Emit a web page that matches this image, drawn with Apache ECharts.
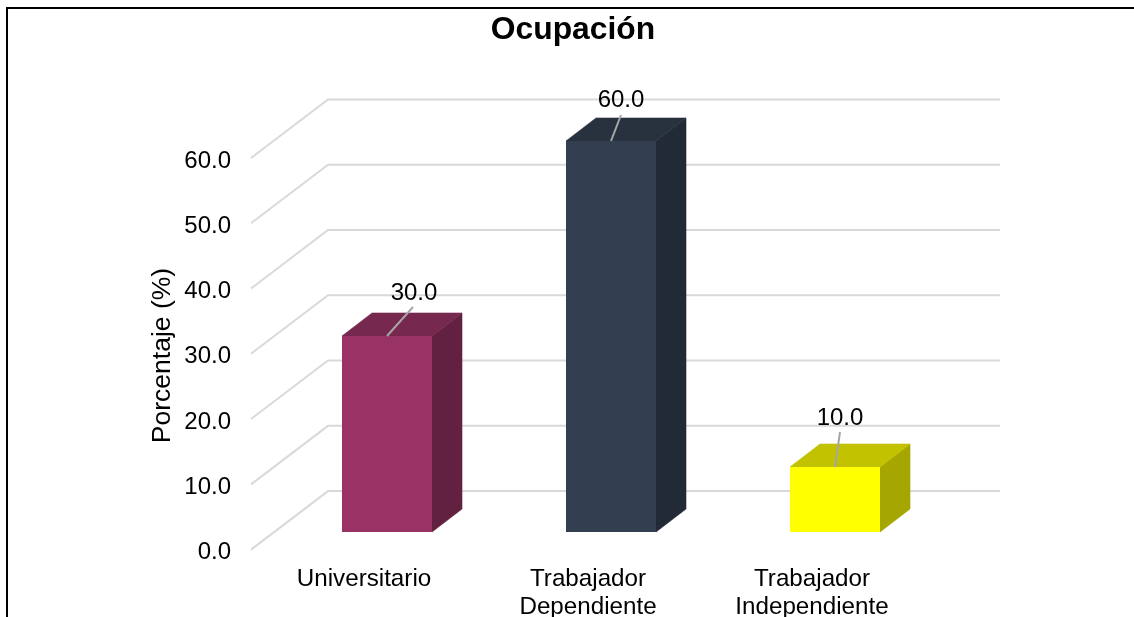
<!DOCTYPE html>
<html>
<head>
<meta charset="utf-8">
<title>Ocupación</title>
<script src="https://cdn.jsdelivr.net/npm/echarts@6/dist/echarts.min.js"></script>
<style>
  html, body { margin: 0; background: #fff; }
  #chart { width: 1134px; height: 617px; }
</style>
</head>
<body>
<div id="chart"></div>
<script>
const categories = ["Universitario", "Trabajador\nDependiente", "Trabajador\nIndependiente"];
const values = [30, 60, 10];
const gridTicks = [0, 10, 20, 30, 40, 50, 60];

// front, top, side of each box
const barColors = [
  ["#993366", "#76284f", "#632141"],
  ["#333f50", "#28323f", "#222a35"],
  ["#ffff00", "#c2c200", "#a6a600"]
];
// leader line end and label centre, relative to the middle of the bar's front top edge
const leaders = [
  { dx: 26, dy: -29, tx: 27, ty: -43 },
  { dx: 10, dy: -26, tx: 10, ty: -41 },
  { dx: 5, dy: -35, tx: 5, ty: -49 }
];

const FONT = '"Liberation Sans", Arial, sans-serif';
const wallDx = 77, wallDy = -58.5;
const barShift = 23, barHalf = 45, barLift = 17.4, depthX = 30, depthY = -23;

function renderWall(params, api) {
  const y = api.coord([0, api.value(0)])[1];
  const x0 = params.coordSys.x - 1;
  return {
    type: "polyline",
    silent: true,
    shape: { points: [[x0, y], [x0 + wallDx, y + wallDy], [1000, y + wallDy]] },
    style: { fill: "none", stroke: "#d9d9d9", lineWidth: 2 }
  };
}

function renderBar(params, api) {
  const i = api.value(0);
  const v = api.value(1);
  const top = api.coord([i, v]);
  const base = api.coord([i, 0]);
  const cx = Math.round(top[0] + barShift);
  const l = cx - barHalf, r = cx + barHalf;
  const t = Math.round(top[1] - barLift), b = Math.round(base[1] - barLift);
  const c = barColors[i];
  const lead = leaders[i];
  return {
    type: "group",
    children: [
      {
        type: "polygon",
        shape: { points: [[r, t], [r + depthX, t + depthY], [r + depthX, b + depthY], [r, b]] },
        style: { fill: c[2], stroke: c[2], lineWidth: 0.6 }
      },
      {
        type: "polygon",
        shape: { points: [[l, t], [l + depthX, t + depthY], [r + depthX, t + depthY], [r, t]] },
        style: { fill: c[1], stroke: c[1], lineWidth: 0.6 }
      },
      { type: "rect", shape: { x: l, y: t, width: r - l, height: b - t }, style: { fill: c[0] } },
      {
        type: "line",
        shape: { x1: cx, y1: t, x2: cx + lead.dx, y2: t + lead.dy },
        style: { stroke: "#a6a6a6", lineWidth: 2 }
      },
      {
        type: "text",
        x: cx + lead.tx,
        y: t + lead.ty,
        style: {
          text: v.toFixed(1),
          fill: "#000",
          font: "24px " + FONT,
          align: "center",
          verticalAlign: "middle"
        }
      }
    ]
  };
}

const chart = echarts.init(document.getElementById("chart"));
chart.setOption({
  animation: false,
  textStyle: { fontFamily: FONT },
  title: {
    text: "Ocupación",
    left: 568,
    textAlign: "center",
    top: 9,
    textStyle: { fontSize: 31.8, fontWeight: "bold", color: "#000", fontFamily: FONT }
  },
  graphic: [
    {
      type: "polyline",
      silent: true,
      shape: { points: [[7, 640], [7, 8], [1160, 8]] },
      style: { fill: "none", stroke: "#000", lineWidth: 2 }
    }
  ],
  grid: { left: 252, width: 672, top: 158, height: 391.6, outerBoundsMode: "none" },
  xAxis: {
    type: "category",
    data: categories,
    axisLine: { show: false },
    axisTick: { show: false },
    axisLabel: { color: "#000", fontSize: 24.2, lineHeight: 28, margin: 15.5, interval: 0, fontFamily: FONT }
  },
  yAxis: {
    type: "value",
    min: 0,
    max: 60,
    interval: 10,
    name: "Porcentaje (%)",
    nameLocation: "middle",
    nameRotate: 90,
    nameGap: 75.5,
    nameMoveOverlap: false,
    nameTextStyle: { color: "#000", fontSize: 26.5, padding: [0, 3.4, 0, 0], fontFamily: FONT },
    axisLine: { show: false },
    axisTick: { show: false },
    splitLine: { show: false },
    axisLabel: {
      color: "#000",
      fontSize: 24,
      margin: 21,
      verticalAlign: "top",
      lineHeight: 6,
      fontFamily: FONT,
      formatter: (v) => v.toFixed(1)
    }
  },
  series: [
    {
      type: "custom",
      coordinateSystem: "cartesian2d",
      clip: false,
      silent: true,
      encode: { y: 0 },
      data: gridTicks.map((t) => [t]),
      renderItem: renderWall,
      z: 1
    },
    {
      type: "custom",
      coordinateSystem: "cartesian2d",
      clip: false,
      encode: { x: 0, y: 1 },
      data: values.map((v, i) => [i, v]),
      renderItem: renderBar,
      z: 2
    }
  ]
});
</script>
</body>
</html>
